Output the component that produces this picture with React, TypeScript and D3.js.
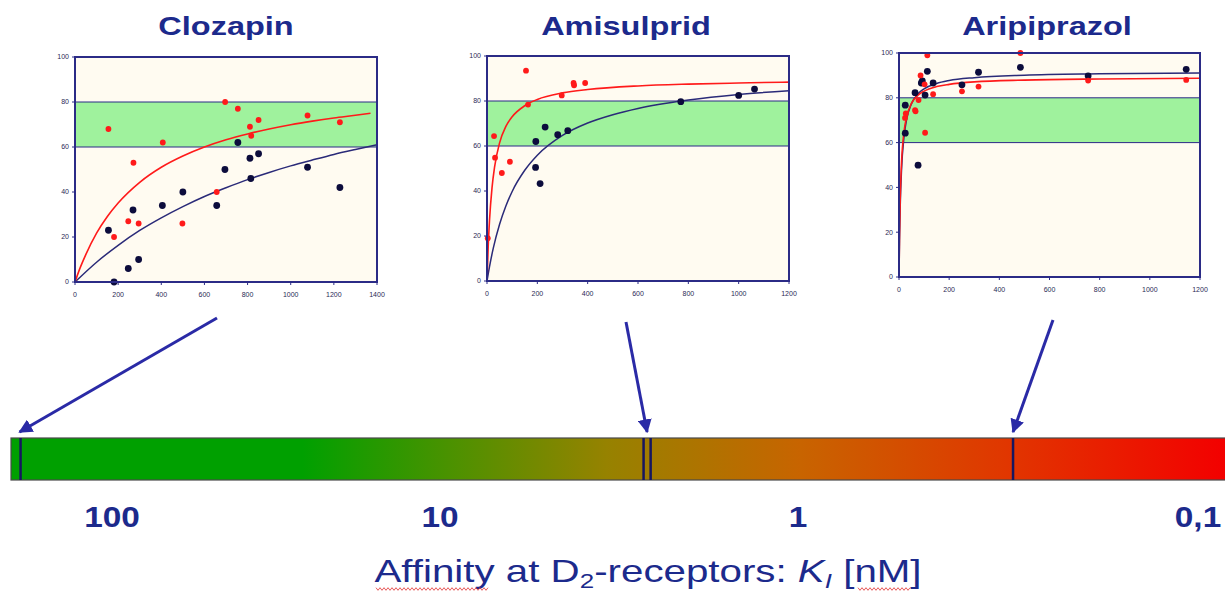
import * as d3 from "d3";

// binding at D2 receptor (y, %) vs plasma level (x)
const CLOZ_RED = [[155, 68], [181, 20], [247, 27], [271, 53], [295, 26], [407, 62], [498, 26], [657, 40], [696, 80], [755, 77], [811, 69], [817, 65], [851, 72], [1078, 74], [1228, 71]];
const CLOZ_BLUE = [[155, 23], [181, 0], [247, 6], [269, 32], [295, 10], [405, 34], [500, 40], [657, 34], [695, 50], [755, 62], [811, 55], [815, 46], [851, 57], [1078, 51], [1228, 42]];
const CLOZ_RED_FIT = [[0, 0], [25, 6.6], [50, 12.2], [100, 21.7], [150, 29.1], [200, 35.1], [300, 44.3], [400, 51], [500, 56], [600, 60], [700, 63.2], [800, 65.8], [900, 68], [1000, 69.9], [1100, 71.5], [1200, 72.9], [1300, 74.1], [1370, 75]];
const CLOZ_BLUE_FIT = [[0, 0], [100, 8.8], [200, 16.3], [300, 22.9], [400, 28.5], [500, 33.5], [600, 38], [700, 41.9], [800, 45.5], [900, 48.7], [1000, 51.6], [1100, 54.2], [1200, 56.7], [1300, 58.9], [1400, 61]];

const AMI_RED = [[3, 19], [28, 64.4], [32, 54.8], [59, 48], [91, 53], [155, 93.5], [163, 78.4], [297, 82.5], [344, 88], [346, 87], [390, 88]];
const AMI_BLUE = [[194, 62], [193, 50.5], [211, 43.3], [231, 68.4], [281, 65], [321, 66.8], [770, 79.7], [1000, 82.5], [1063, 85.3]];
const AMI_RED_FIT = [[0, 0], [5, 15.9], [10, 27], [20, 41.5], [30, 50.6], [50, 61.4], [75, 68.7], [100, 73], [150, 77.9], [200, 80.7], [300, 83.6], [400, 85.1], [600, 86.7], [800, 87.5], [1000, 88], [1200, 88.4]];
const AMI_BLUE_FIT = [[0, 0], [10, 6.4], [25, 14.6], [50, 25.2], [75, 33.3], [100, 39.8], [150, 49.2], [200, 55.9], [300, 64.7], [400, 70.2], [500, 73.9], [600, 76.7], [800, 80.4], [1000, 82.9], [1200, 84.6]];

const ARI_RED = [[24, 71], [27, 73], [64, 74.5], [66, 74], [78, 79], [86, 90], [102, 86], [104, 64.4], [113, 99], [136, 81.6], [251, 82.9], [317, 85], [484, 100], [754, 87.7], [1145, 88]];
const ARI_BLUE = [[25, 76.7], [25, 64.2], [64, 82.3], [76, 49.9], [89, 86.6], [93, 87.5], [104, 81.2], [113, 91.8], [136, 86.6], [251, 85.8], [317, 91.4], [484, 93.6], [754, 89.8], [1145, 92.7]];
const ARI_RED_FIT = [[0, 0], [2, 18.7], [5, 35.6], [10, 50.9], [20, 64.8], [30, 71.3], [50, 77.6], [75, 81.1], [100, 83], [150, 85], [200, 86], [300, 87.1], [500, 87.9], [800, 88.4], [1200, 88.7]];
const ARI_BLUE_FIT = [[0, 0], [2, 16.2], [5, 32.1], [10, 47.6], [20, 62.7], [30, 70.1], [50, 77.4], [75, 81.7], [100, 84], [150, 86.4], [200, 87.7], [300, 89], [500, 90.1], [800, 90.7], [1200, 91.1]];

const Y_TICKS = [0, 20, 40, 60, 80, 100];
const TARGET_BAND = [60, 80];

// Ki scale below
const KI_TICKS = [100, 10, 1, 0.1];
const KI_TICK_LABELS = ["100", "10", "1", "0,1"];
const DRUGS = ["Clozapin", "Amisulprid", "Aripiprazol"];
const DRUG_KI = [[190], [2.7, 2.58], [0.29]];

const NAVY = "#1c2a8c";
const AXIS = "#2b2b86";
const RED = "#ff1a1a";
const DOT = "#0c0c3c";

const panels = [
  { name: DRUGS[0], xMax: 1400, left: 75, right: 377, top: 57, bottom: 282, titleX: 226, red: CLOZ_RED, blue: CLOZ_BLUE, redFit: CLOZ_RED_FIT, blueFit: CLOZ_BLUE_FIT },
  { name: DRUGS[1], xMax: 1200, left: 487, right: 789, top: 56, bottom: 281, titleX: 626, red: AMI_RED, blue: AMI_BLUE, redFit: AMI_RED_FIT, blueFit: AMI_BLUE_FIT },
  { name: DRUGS[2], xMax: 1200, left: 899, right: 1200, top: 53, bottom: 277, titleX: 1047, red: ARI_RED, blue: ARI_BLUE, redFit: ARI_RED_FIT, blueFit: ARI_BLUE_FIT },
];

// where each arrow leaves its chart
const ARROW_FROM = [[217, 318], [626, 322], [1053, 320]];

const BAR = { left: 11, right: 1226, top: 438, bottom: 480 };

// the slide text is stretched sideways
const TITLE_STRETCH = 1.3;
const LABEL_STRETCH = 1.15;

const Panel = ({ p }) => {
  const x = d3.scaleLinear().domain([0, p.xMax]).range([p.left, p.right]);
  const y = d3.scaleLinear().domain([0, 100]).range([p.bottom, p.top]);
  const line = d3
    .line()
    .x((d) => x(d[0]))
    .y((d) => y(d[1]))
    .curve(d3.curveMonotoneX);
  const xTicks = d3.range(0, p.xMax + 1, 200);

  return (
    <g>
      <g transform={`translate(${p.titleX},35) scale(${TITLE_STRETCH},1)`}>
        <text textAnchor="middle" fontSize={25} fontWeight="bold" fill={NAVY}>
          {p.name}
        </text>
      </g>
      <rect x={p.left} y={p.top} width={p.right - p.left} height={p.bottom - p.top} fill="#fffbf1" />
      <rect
        x={p.left}
        y={y(TARGET_BAND[1])}
        width={p.right - p.left}
        height={y(TARGET_BAND[0]) - y(TARGET_BAND[1])}
        fill="#9ff29d"
        stroke={AXIS}
        strokeWidth={1}
      />
      <path d={line(p.blueFit)} fill="none" stroke="#2a2a78" strokeWidth={1.5} />
      <path d={line(p.redFit)} fill="none" stroke={RED} strokeWidth={1.6} />
      {p.blue.map((d, i) => (
        <circle key={"b" + i} cx={x(d[0])} cy={y(d[1])} r={3.4} fill={DOT} />
      ))}
      {p.red.map((d, i) => (
        <circle key={"r" + i} cx={x(d[0])} cy={y(d[1])} r={2.9} fill={RED} />
      ))}
      <rect x={p.left} y={p.top} width={p.right - p.left} height={p.bottom - p.top} fill="none" stroke={AXIS} strokeWidth={2} />
      {Y_TICKS.map((t) => (
        <g key={"y" + t}>
          <line x1={p.left - 3} x2={p.left} y1={y(t)} y2={y(t)} stroke={AXIS} strokeWidth={1} />
          <text x={p.left - 6} y={y(t)} dy="0.35em" textAnchor="end" fontSize={7} fill="#2a2a55">
            {t}
          </text>
        </g>
      ))}
      {xTicks.map((t) => (
        <g key={"x" + t}>
          <line x1={x(t)} x2={x(t)} y1={p.bottom} y2={p.bottom + 3} stroke={AXIS} strokeWidth={1} />
          <text x={x(t)} y={p.bottom + 15} textAnchor="middle" fontSize={7} fill="#2a2a55">
            {t}
          </text>
        </g>
      ))}
    </g>
  );
};

export default function App() {
  // piecewise log scale: log10(Ki) -> x (label spacing is not even in the original)
  const kiX = d3
    .scaleLinear()
    .domain(KI_TICKS.map((k) => Math.log10(k)))
    .range([112, 440, 798, 1198]);
  const posKi = (k) => kiX(Math.log10(k));

  const arrowTips = DRUG_KI.map((ks) => d3.mean(ks, posKi));

  const squiggle = (x0, x1, yy) => {
    const pts = d3.range(x0, x1, 2).map((xx, i) => [xx, yy + (i % 2 ? 1.3 : -1.3)]);
    return d3.line()(pts);
  };

  return (
    <>
      <style>{`body{margin:0}`}</style>
      <svg width={1225} height={591} style={{ display: "block", fontFamily: "'Liberation Sans', Arial, sans-serif", background: "#fff" }}>
        <defs>
          <marker id="ah" viewBox="0 0 10 10" refX={9} refY={5} markerWidth={14} markerHeight={14} markerUnits="userSpaceOnUse" orient="auto">
            <path d="M0,0 L10,5 L0,10 Z" fill="#2a2aa6" />
          </marker>
          <linearGradient id="kiGrad" x1="0" x2="1" y1="0" y2="0">
            <stop offset="0" stopColor="#00a000" />
            <stop offset="0.24" stopColor="#00a000" />
            <stop offset="0.36" stopColor="#4a9200" />
            <stop offset="0.49" stopColor="#968200" />
            <stop offset="0.65" stopColor="#c86400" />
            <stop offset="0.82" stopColor="#e13600" />
            <stop offset="1" stopColor="#f30000" />
          </linearGradient>
        </defs>

        {panels.map((p) => (
          <Panel key={p.name} p={p} />
        ))}

        {ARROW_FROM.map((a, i) => (
          <line
            key={"a" + i}
            x1={a[0]}
            y1={a[1]}
            x2={arrowTips[i] - (i === 0 ? 1 : 0)}
            y2={BAR.top - 6}
            stroke="#2a2aa6"
            strokeWidth={3}
            markerEnd="url(#ah)"
          />
        ))}

        <rect x={BAR.left} y={BAR.top} width={BAR.right - BAR.left} height={BAR.bottom - BAR.top} fill="url(#kiGrad)" stroke="#4a4a4a" strokeWidth={1.2} />
        {DRUG_KI.flat().map((k, i) => (
          <line key={"m" + i} x1={posKi(k)} x2={posKi(k)} y1={BAR.top} y2={BAR.bottom} stroke="#161660" strokeWidth={2.5} />
        ))}

        {KI_TICKS.map((k, i) => (
          <g key={"k" + i} transform={`translate(${posKi(k)},527) scale(${LABEL_STRETCH},1)`}>
            <text textAnchor="middle" fontSize={29} fontWeight="bold" fill={NAVY}>
              {KI_TICK_LABELS[i]}
            </text>
          </g>
        ))}

        <g transform={`translate(648,582) scale(${TITLE_STRETCH},1)`}>
          <text textAnchor="middle" fontSize={31} fill={NAVY}>
            Affinity at D
            <tspan fontSize={20} dy={6}>2</tspan>
            <tspan dy={-6}>-receptors: </tspan>
            <tspan fontStyle="italic">K</tspan>
            <tspan fontStyle="italic" fontSize={20} dy={6}>I</tspan>
            <tspan dy={-6}> [nM]</tspan>
          </text>
        </g>
        <path d={squiggle(376, 490, 589)} fill="none" stroke="#e03030" strokeWidth={0.8} />
        <path d={squiggle(858, 912, 589)} fill="none" stroke="#e03030" strokeWidth={0.8} />
      </svg>
    </>
  );
}
